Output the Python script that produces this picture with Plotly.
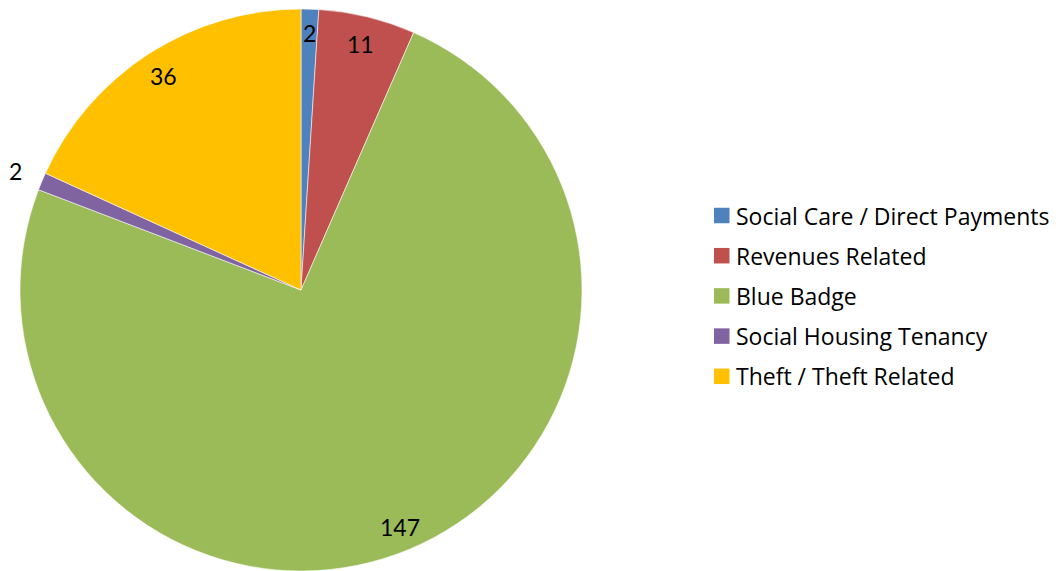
import math
import plotly.graph_objects as go

# Case categories and counts
categories = [
    "Social Care / Direct Payments",
    "Revenues Related",
    "Blue Badge",
    "Social Housing Tenancy",
    "Theft / Theft Related",
]
counts = [2, 11, 147, 2, 36]
colors = ["#4F81BD", "#C0504D", "#9BBB59", "#8064A2", "#FFC000"]

# Radial placement of each value label, as a fraction of the pie radius
label_radius = [0.915, 0.9, 0.915, 1.1, 0.905]

W, H = 1059, 571
left, right, top = 19, 583, 9

fig = go.Figure(
    go.Pie(
        labels=categories,
        values=counts,
        marker=dict(colors=colors, line=dict(color="rgba(255,255,255,0.7)", width=0.8)),
        sort=False,
        direction="clockwise",
        rotation=0,
        textinfo="none",
        hoverinfo="label+value",
        showlegend=False,
        domain=dict(x=[left / W, right / W], y=[0, 1 - top / H]),
    )
)

# Pie geometry in pixels (radius set by the domain's smaller side)
r = min(right - left, H - top) / 2
cx = (left + right) / 2
cy = top + r

# Value labels at each slice's mid-angle
total = sum(counts)
cum = 0
for val, frac in zip(counts, label_radius):
    mid = (cum + val / 2) / total * 2 * math.pi
    cum += val
    px = cx + frac * r * math.sin(mid)
    py = cy - frac * r * math.cos(mid)
    fig.add_annotation(
        x=px / W, y=1 - py / H, xref="paper", yref="paper",
        text=str(val), showarrow=False,
        font=dict(family="Lato", size=23, color="black"),
        xanchor="center", yanchor="middle",
    )

# Legend: colour square and category name per row
leg_x0, leg_y0, leg_step, sq = 714, 215.5, 40.2, 15.5
for i, (name, col) in enumerate(zip(categories, colors)):
    yc = leg_y0 + i * leg_step
    fig.add_shape(
        type="rect", xref="paper", yref="paper",
        x0=leg_x0 / W, x1=(leg_x0 + sq) / W,
        y0=1 - (yc - sq / 2) / H, y1=1 - (yc + sq / 2) / H,
        fillcolor=col, line=dict(width=0),
    )
    fig.add_annotation(
        x=(leg_x0 + 20) / W, y=1 - yc / H, xref="paper", yref="paper",
        text=name, showarrow=False,
        font=dict(family="Open Sans", size=23, color="black"),
        xanchor="left", yanchor="middle",
    )

fig.update_layout(
    width=W, height=H,
    margin=dict(l=0, r=0, t=0, b=0),
    paper_bgcolor="white",
    plot_bgcolor="white",
)

fig.write_html("out.html")
